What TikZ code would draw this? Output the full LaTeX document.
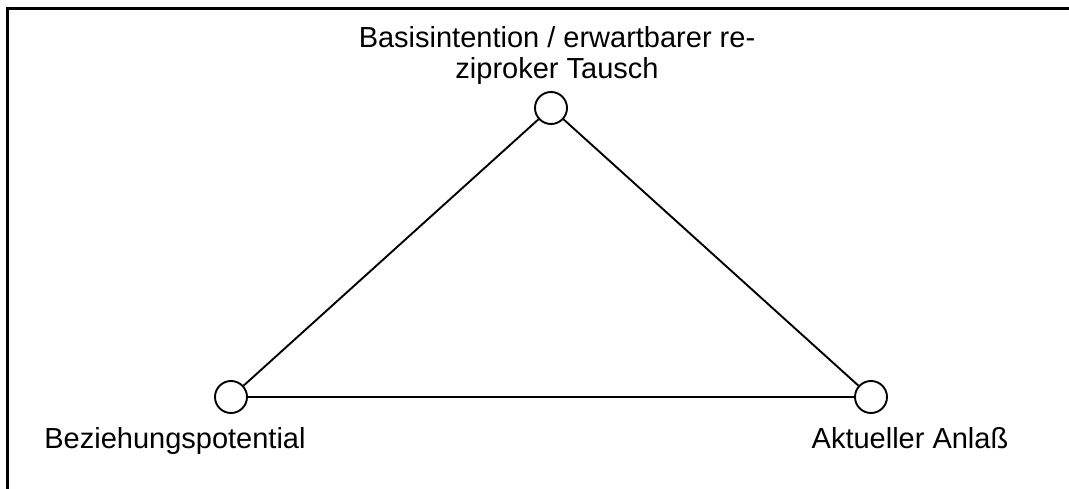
\documentclass[tikz,border=0pt]{standalone}
\usepackage{fontspec}
\setmainfont{Liberation Sans}
\usepackage{tikz}
\usetikzlibrary{positioning}

\begin{document}
\begin{tikzpicture}[
  x=1pt, y=-1pt,
  vertex/.style={circle, draw, line width=1.9pt, minimum size=32pt, inner sep=0pt},
  edge/.style={line width=1.9pt},
  label/.style={font=\fontsize{29}{31}\selectfont, inner sep=0pt, anchor=base, align=center}
]

\useasboundingbox (0,0) rectangle (1069,489);
\draw[line width=2.2pt] (7.5,520) |- (1100,8.5);

\node[vertex] (basis) at (551,108) {};
\node[vertex] (bez) at (231,397) {};
\node[vertex] (anlass) at (871,397) {};

\draw[edge] (basis) -- (bez);
\draw[edge] (basis) -- (anlass);
\draw[edge] (bez) -- (anlass);

% base anchor sits on the last line
\node[label] (basislabel) at (557,79) {Basisintention / erwartbarer re-\\ziproker Tausch};
\node[label] (bezlabel) at (175,448) {Beziehungspotential};
\node[label] (anlasslabel) at (910,448) {Aktueller Anlaß};

\end{tikzpicture}
\end{document}
